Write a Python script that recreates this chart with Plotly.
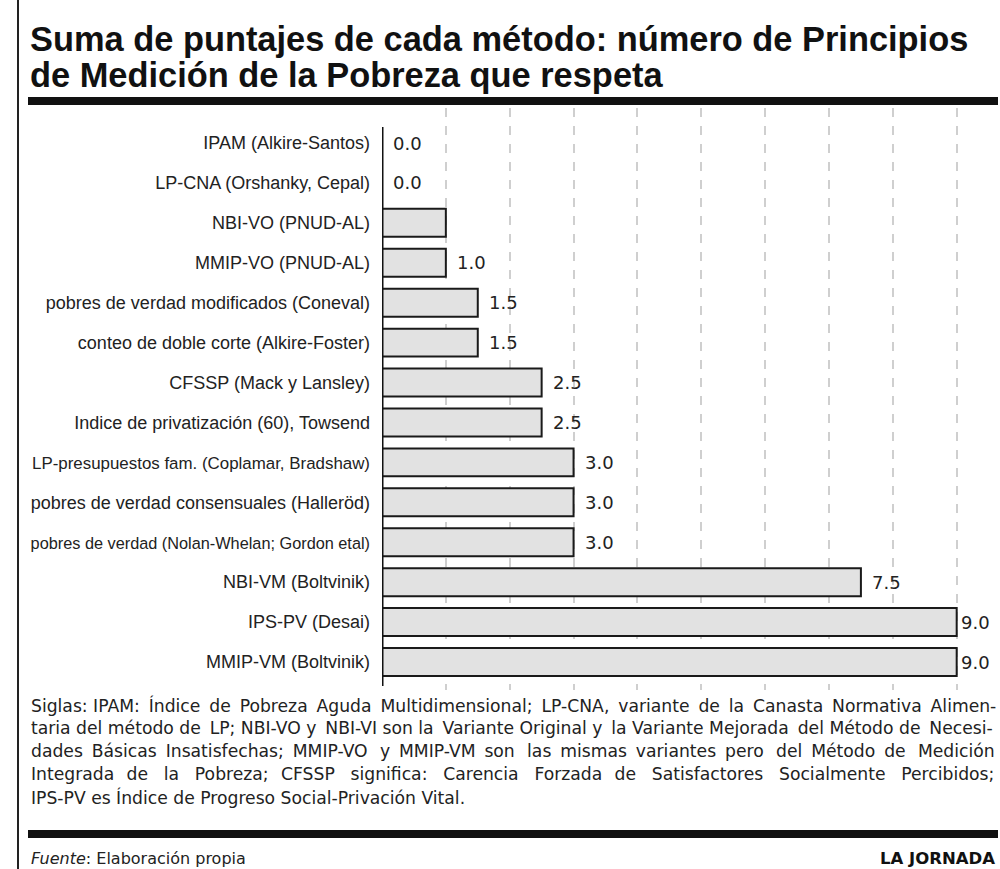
import plotly.graph_objects as go

categories = [
    "IPAM (Alkire-Santos)",
    "LP-CNA (Orshanky, Cepal)",
    "NBI-VO (PNUD-AL)",
    "MMIP-VO (PNUD-AL)",
    "pobres de verdad modificados (Coneval)",
    "conteo de doble corte (Alkire-Foster)",
    "CFSSP (Mack y Lansley)",
    "Indice de privatización (60), Towsend",
    "LP-presupuestos fam. (Coplamar, Bradshaw)",
    "pobres de verdad consensuales (Halleröd)",
    "pobres de verdad (Nolan-Whelan; Gordon etal)",
    "NBI-VM (Boltvinik)",
    "IPS-PV (Desai)",
    "MMIP-VM (Boltvinik)",
]
values = [0.0, 0.0, 1.0, 1.0, 1.5, 1.5, 2.5, 2.5, 3.0, 3.0, 3.0, 7.5, 9.0, 9.0]
value_labels = ["0.0", "0.0", "", "1.0", "1.5", "1.5", "2.5", "2.5", "3.0", "3.0", "3.0", "7.5", "9.0", "9.0"]

title_lines = [
    "Suma de puntajes de cada método: número de Principios",
    "de Medición de la Pobreza que respeta",
]
note_lines = [
    "Siglas: IPAM: Índice de Pobreza Aguda Multidimensional; LP-CNA, variante de la Canasta Normativa Alimen-",
    "taria del método de LP; NBI-VO y NBI-VI son la Variante Original y la Variante Mejorada del Método de Necesi-",
    "dades Básicas Insatisfechas; MMIP-VO y MMIP-VM son las mismas variantes pero del Método de Medición",
    "Integrada de la Pobreza; CFSSP significa: Carencia Forzada de Satisfactores Socialmente Percibidos;",
    "IPS-PV es Índice de Progreso Social-Privación Vital.",
]
source_text = "<i>Fuente</i>: Elaboración propia"
brand_text = "<b>LA JORNADA</b>"

W, H = 1000, 869
def px(x):
    return x / W
def py(y):
    return 1 - y / H

FONT = "Liberation Sans, Arial, sans-serif"
WIDE = "DejaVu Sans, Liberation Sans, Arial, sans-serif"

# per-label size tweaks (styling only)
label_size = {
    "pobres de verdad (Nolan-Whelan; Gordon etal)": 16.3,
    "LP-presupuestos fam. (Coplamar, Bradshaw)": 16.9,
}
ticktext = [
    '<span style="font-size:%spx">%s</span>' % (label_size.get(c, 18), c) for c in categories
]

# approximate justification of the footnote: extra thin spaces per line (styling only)
extra_thin = [12, 6, 18, 30, 0]
THIN = "\u2009"
def justify(line, n):
    words = line.split(" ")
    gaps = len(words) - 1
    if n <= 0 or gaps <= 0:
        return line
    out = words[0]
    for g in range(gaps):
        k = (n * (g + 1)) // gaps - (n * g) // gaps
        out += " " + THIN * k + words[g + 1]
    return out

fig = go.Figure()
fig.add_trace(go.Bar(
    x=values, y=categories, orientation="h",
    marker=dict(color="#e2e2e2", line=dict(color="#1a1a1a", width=2)),
    width=0.7, hoverinfo="skip",
))

annotations = []
for c, v, t in zip(categories, values, value_labels):
    if t:
        annotations.append(dict(
            x=v, y=c, xref="x", yref="y", text=t, showarrow=False,
            xanchor="left", yanchor="middle", xshift=(2 if v >= 9 else 9),
            font=dict(family=WIDE, size=18, color="#222"),
        ))

for i, line in enumerate(title_lines):
    annotations.append(dict(
        x=px(28), y=py(39 + i * 36), xref="paper", yref="paper", text="<b>" + line + "</b>",
        showarrow=False, xanchor="left", yanchor="middle",
        font=dict(family=FONT, size=34.4, color="#111"),
    ))

for i, line in enumerate(note_lines):
    annotations.append(dict(
        x=px(29), y=py(705 + i * 23), xref="paper", yref="paper", text=justify(line, extra_thin[i]),
        showarrow=False, xanchor="left", yanchor="middle",
        font=dict(family=WIDE, size=17.2, color="#222"),
    ))

annotations.append(dict(
    x=px(29), y=py(858), xref="paper", yref="paper", text=source_text,
    showarrow=False, xanchor="left", yanchor="middle",
    font=dict(family=WIDE, size=16, color="#222"),
))
annotations.append(dict(
    x=px(997), y=py(858), xref="paper", yref="paper", text=brand_text,
    showarrow=False, xanchor="right", yanchor="middle",
    font=dict(family=WIDE, size=16.5, color="#111"),
))

shapes = [
    dict(type="line", xref="paper", yref="paper", x0=px(18), x1=px(18), y0=0, y1=1,
         line=dict(color="#222", width=2)),
    dict(type="line", xref="paper", yref="paper", x0=px(28), x1=px(998), y0=py(101), y1=py(101),
         line=dict(color="#111", width=8)),
    dict(type="line", xref="paper", yref="paper", x0=px(28), x1=px(998), y0=py(834), y1=py(834),
         line=dict(color="#111", width=8)),
    dict(type="line", xref="x", yref="paper", x0=0, x1=0, y0=py(127), y1=py(686),
         line=dict(color="#111", width=3)),
]

top_px, bot_px = 108, 690
first_c, last_c = 143, 662
step = (last_c - first_c) / (len(categories) - 1)
r_top = -(first_c - top_px) / step
r_bot = (len(categories) - 1) + (bot_px - last_c) / step

fig.update_layout(
    width=W, height=H,
    margin=dict(l=0, r=0, t=0, b=0),
    paper_bgcolor="white", plot_bgcolor="white",
    showlegend=False,
    bargap=0.3,
    annotations=annotations,
    shapes=shapes,
    xaxis=dict(
        domain=[px(382), px(995)], range=[0, 9.6],
        dtick=1, tick0=0, showgrid=True, gridcolor="#cfcfcf", griddash="dash", gridwidth=1.5,
        zeroline=False, showticklabels=False, ticks="", showline=False,
    ),
    yaxis=dict(
        domain=[py(bot_px), py(top_px)],
        categoryorder="array", categoryarray=categories,
        tickmode="array", tickvals=categories, ticktext=ticktext,
        range=[r_bot, r_top],
        showgrid=False, zeroline=False, showline=False, ticks="",
        ticklabelstandoff=11,
        tickfont=dict(family=FONT, size=18, color="#222"),
    ),
)

fig.write_html(
    "out.html",
    config={"displayModeBar": False},
    post_script="document.body.style.margin='0';document.body.style.overflow='hidden';",
)
